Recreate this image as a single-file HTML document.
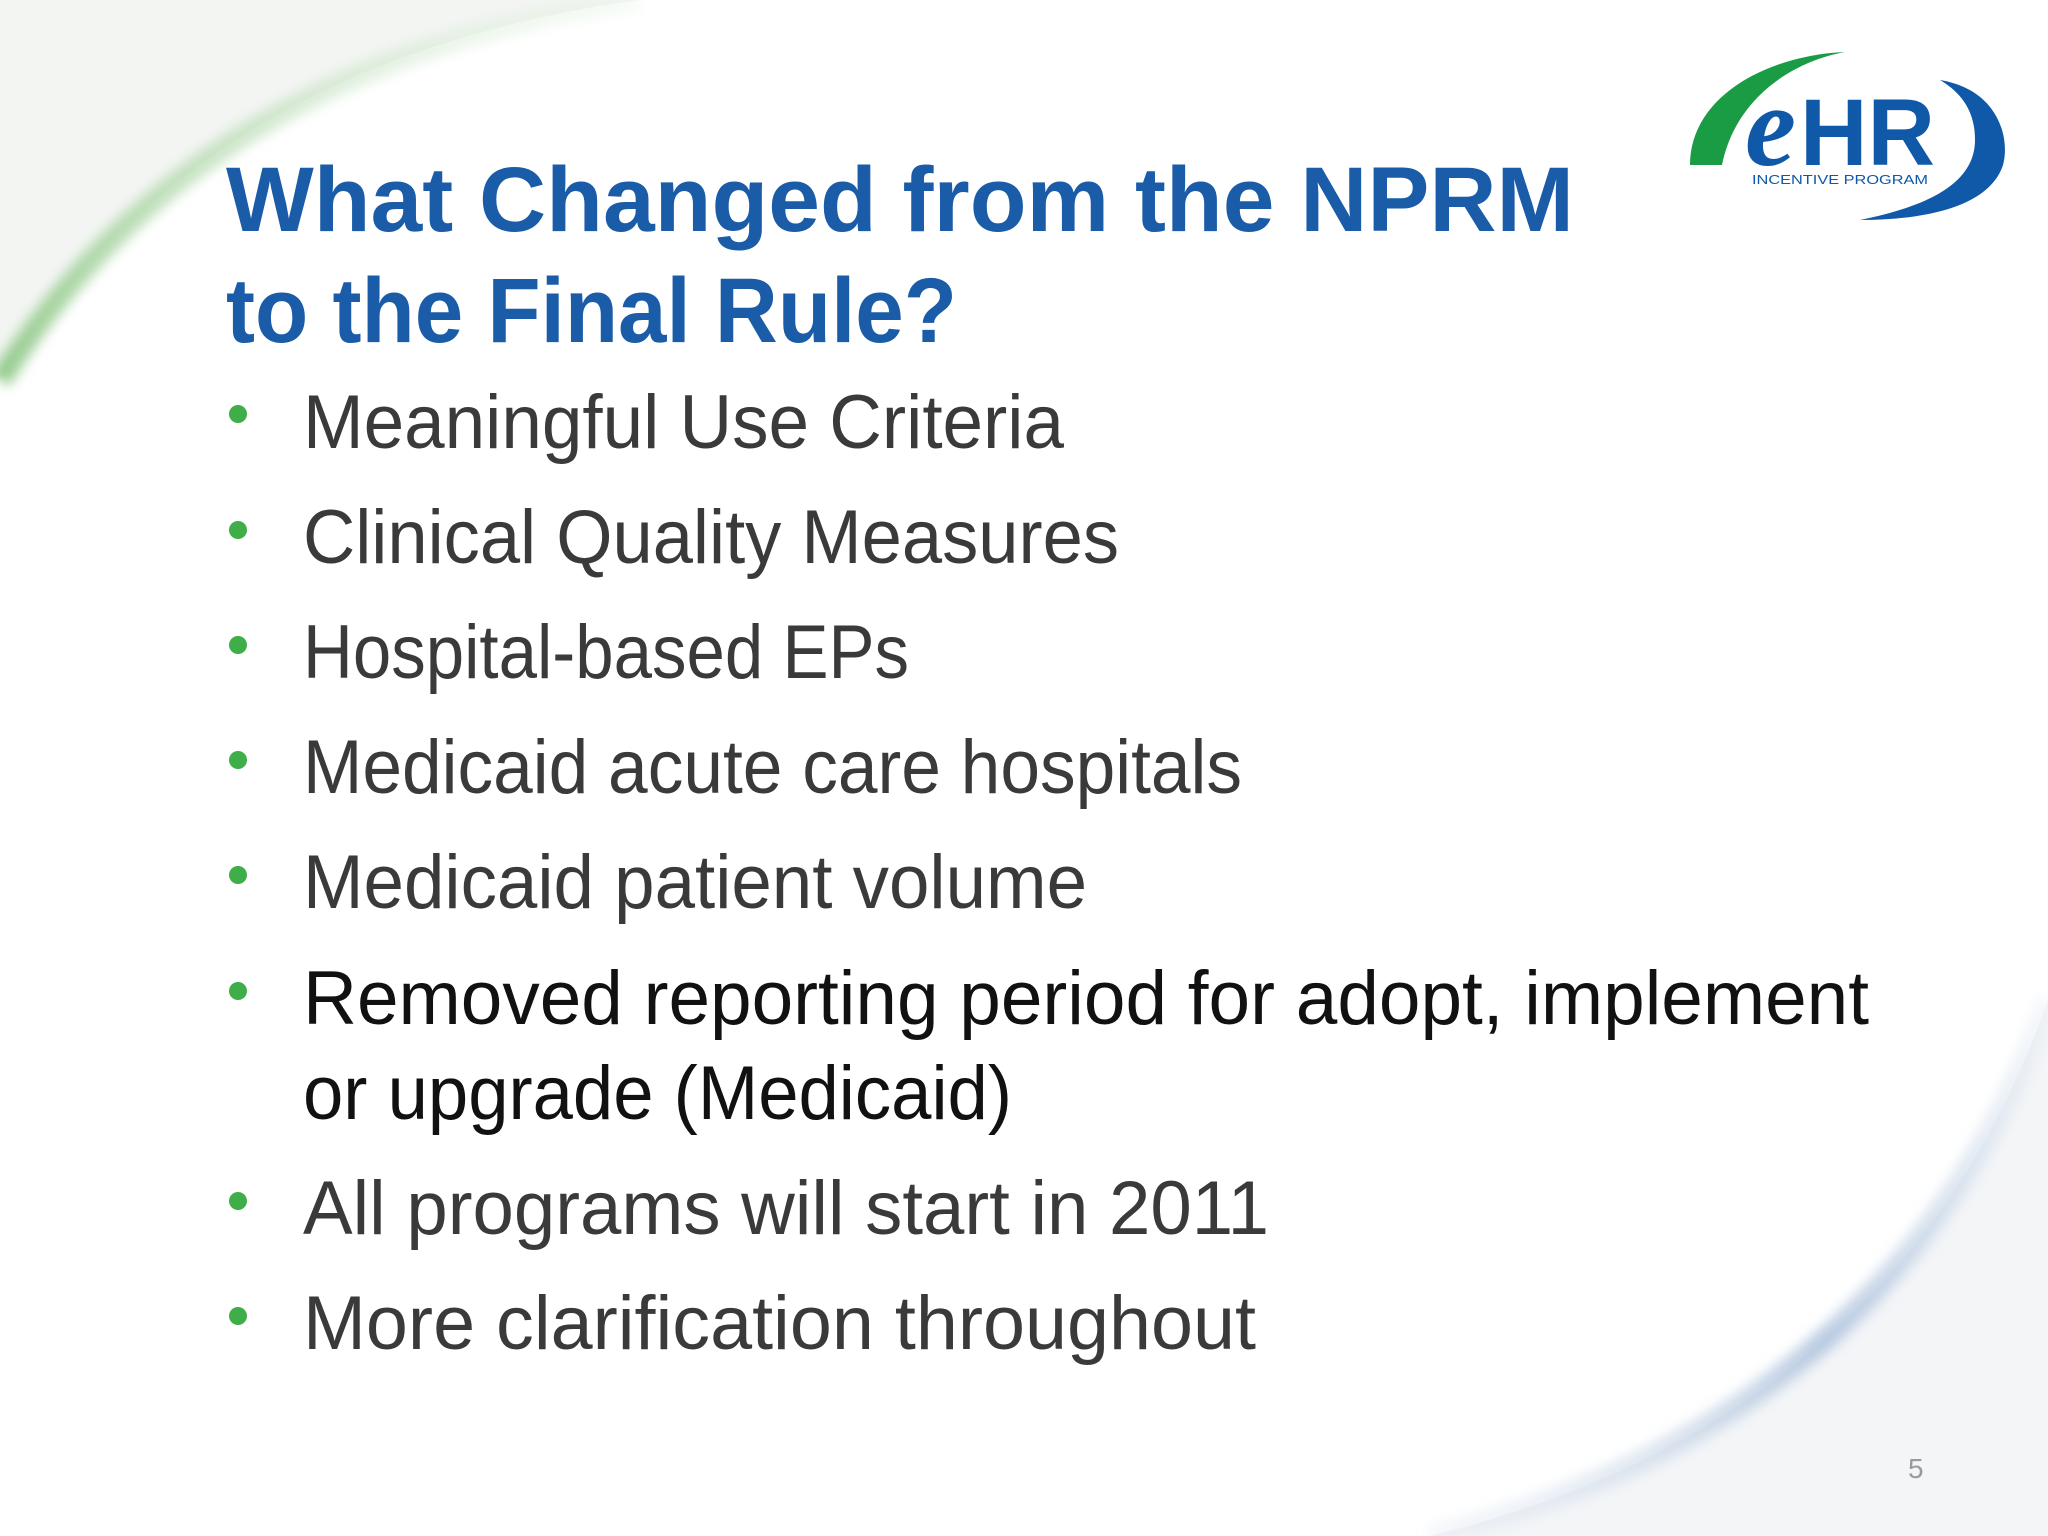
<!DOCTYPE html>
<html><head><meta charset="utf-8">
<style>html,body{margin:0;padding:0;background:#fff;overflow:hidden;width:2048px;height:1536px}svg{display:block}</style></head>
<body>
<svg width="2048" height="1536" viewBox="0 0 2048 1536" xmlns="http://www.w3.org/2000/svg">
<defs>
<linearGradient id="gArc" x1="0" y1="1" x2="1" y2="0">
<stop offset="0" stop-color="#8cc784" stop-opacity="0.9"/>
<stop offset="0.5" stop-color="#b9dcb3" stop-opacity="0.7"/>
<stop offset="1" stop-color="#e6f2e4" stop-opacity="0.3"/>
</linearGradient>
<linearGradient id="bArc" x1="1" y1="0" x2="0" y2="1">
<stop offset="0" stop-color="#e6ecf4" stop-opacity="0.4"/>
<stop offset="0.5" stop-color="#a9bfdb" stop-opacity="0.8"/>
<stop offset="1" stop-color="#dfe6ef" stop-opacity="0.3"/>
</linearGradient>
<filter id="blur" x="-10%" y="-10%" width="120%" height="120%"><feGaussianBlur stdDeviation="6"/></filter>
</defs>
<rect width="2048" height="1536" fill="#ffffff"/>
<path d="M0,0 L640,0 Q200,60 0,380 Z" fill="#f3f5f3"/>
<path d="M2048,1000 Q1900,1420 1430,1536 L2048,1536 Z" fill="#f3f5f7"/>
<path d="M0,380 Q200,60 640,0" fill="none" stroke="url(#gArc)" stroke-width="22" filter="url(#blur)"/>
<path d="M2048,1000 Q1900,1420 1430,1536" fill="none" stroke="url(#bArc)" stroke-width="22" filter="url(#blur)"/>

<g>
<path d="M1690,165 C1690,95 1770,55 1845,52 C1790,62 1735,100 1722,165 Z" fill="#1a9c45"/>
<path d="M1940,80 C2000,90 2010,140 2003,165 C1990,205 1930,220 1860,220 C1935,205 1975,180 1975,140 C1975,115 1965,95 1940,80 Z" fill="#1059a8"/>
<text x="1745" y="165" font-family="Liberation Serif, serif" font-style="italic" font-weight="bold" font-size="115" fill="#1059a8">e</text>
<text x="1800" y="165" font-family="Liberation Sans, sans-serif" font-weight="bold" font-size="95" fill="#1059a8" textLength="135" lengthAdjust="spacingAndGlyphs">HR</text>
<text x="1752" y="184" font-family="Liberation Sans, sans-serif" font-size="13" fill="#1059a8" textLength="176" lengthAdjust="spacingAndGlyphs">INCENTIVE PROGRAM</text>
</g>

<g font-family="Liberation Sans, sans-serif" font-weight="bold" fill="#1a5ca8" font-size="92">
<text x="226" y="231" textLength="1348" lengthAdjust="spacingAndGlyphs">What Changed from the NPRM</text>
<text x="226" y="342" textLength="731" lengthAdjust="spacingAndGlyphs">to the Final Rule?</text>
</g>

<g fill="#3fae49">
<circle cx="238" cy="414" r="9"/>
<circle cx="238" cy="530" r="9"/>
<circle cx="238" cy="645" r="9"/>
<circle cx="238" cy="760" r="9"/>
<circle cx="238" cy="875" r="9"/>
<circle cx="238" cy="991" r="9"/>
<circle cx="238" cy="1201" r="9"/>
<circle cx="238" cy="1316" r="9"/>
</g>

<g font-family="Liberation Sans, sans-serif" font-size="76" fill="#3a3a3a">
<text x="303" y="448" textLength="761" lengthAdjust="spacingAndGlyphs">Meaningful Use Criteria</text>
<text x="303" y="563" textLength="816" lengthAdjust="spacingAndGlyphs">Clinical Quality Measures</text>
<text x="303" y="678" textLength="606" lengthAdjust="spacingAndGlyphs">Hospital-based EPs</text>
<text x="303" y="793" textLength="939" lengthAdjust="spacingAndGlyphs">Medicaid acute care hospitals</text>
<text x="303" y="908" textLength="784" lengthAdjust="spacingAndGlyphs">Medicaid patient volume</text>
<text x="303" y="1024" fill="#111" textLength="1566" lengthAdjust="spacingAndGlyphs">Removed reporting period for adopt, implement</text>
<text x="303" y="1119" fill="#111" textLength="709" lengthAdjust="spacingAndGlyphs">or upgrade (Medicaid)</text>
<text x="303" y="1234" textLength="966" lengthAdjust="spacingAndGlyphs">All programs will start in 2011</text>
<text x="303" y="1349" textLength="953" lengthAdjust="spacingAndGlyphs">More clarification throughout</text>
</g>
<text x="1908" y="1478" font-family="Liberation Sans, sans-serif" font-size="28" fill="#9a9a9a">5</text>
</svg>
</body></html>
